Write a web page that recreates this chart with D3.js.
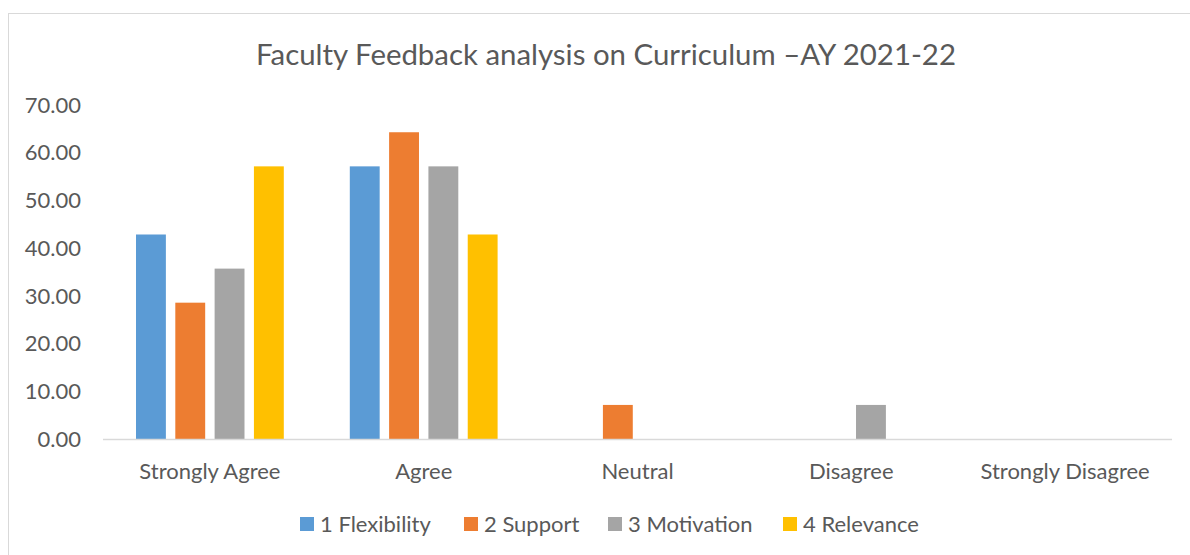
<!DOCTYPE html>
<html>
<head>
<meta charset="utf-8">
<script src="https://cdn.jsdelivr.net/npm/d3@7"></script>
<style>
  body { margin: 0; background: #fff; }
  text { font-family: Lato, "Open Sans", sans-serif; fill: #595959; }
</style>
</head>
<body>
<script>
const categories = ["Strongly Agree", "Agree", "Neutral", "Disagree", "Strongly Disagree"];
const seriesNames = ["1 Flexibility", "2 Support", "3 Motivation", "4 Relevance"];
const flexibility = [42.86, 57.14, 0, 0, 0];
const support = [28.57, 64.29, 7.14, 0, 0];
const motivation = [35.71, 57.14, 0, 7.14, 0];
const relevance = [57.14, 42.86, 0, 0, 0];
const yTicks = [0, 10, 20, 30, 40, 50, 60, 70];
const colors = ["#5B9BD5", "#ED7D31", "#A5A5A5", "#FFC000"];

const seriesValues = [flexibility, support, motivation, relevance];

const W = 1190, H = 555;
const plotLeft = 103, plotRight = 1172, plotTop = 105, plotBottom = 439;

const svg = d3.select('body')
        .append('svg')
        .attr('width', W)
        .attr('height', H);

// chart frame
svg.append('rect')
   .attr('x', 8.5).attr('y', 13.5)
   .attr('width', W + 10).attr('height', H + 10)
   .attr('fill', 'none')
   .attr('stroke', '#d9d9d9');

svg.append('text')
   .attr('x', 606).attr('y', 65)
   .attr('text-anchor', 'middle')
   .attr('font-size', 29.4)
   .text('Faculty Feedback analysis on Curriculum \u2013AY 2021-22');

const x0 = d3.scaleBand()
        .domain(categories)
        .range([plotLeft, plotRight]);

const x1 = d3.scaleBand()
        .domain(seriesNames)
        .range([33, x0.bandwidth() - 33])
        .paddingInner(0.24);

const y = d3.scaleLinear()
        .domain([0, 70])
        .range([plotBottom, plotTop]);

// y tick labels
svg.append('g')
   .selectAll('text')
   .data(yTicks)
   .enter()
   .append('text')
   .attr('x', 81)
   .attr('y', d => y(d))
   .attr('dy', '0.35em')
   .attr('text-anchor', 'end')
   .attr('font-size', 22)
   .text(d => d.toFixed(2));

// bars
const groups = svg.append('g')
   .selectAll('g')
   .data(categories)
   .enter()
   .append('g')
   .attr('transform', d => 'translate(' + x0(d) + ',0)');

groups.selectAll('rect')
   .data((c, i) => seriesNames.map((s, j) => ({s: s, v: seriesValues[j][i], c: colors[j]})))
   .enter()
   .append('rect')
   .attr('x', d => x1(d.s))
   .attr('width', x1.bandwidth())
   .attr('y', d => y(d.v))
   .attr('height', d => y(0) - y(d.v))
   .attr('fill', d => d.c);

// x axis line
svg.append('line')
   .attr('x1', plotLeft).attr('x2', plotRight)
   .attr('y1', plotBottom + 0.5).attr('y2', plotBottom + 0.5)
   .attr('stroke', '#d9d9d9')
   .attr('stroke-width', 1.5);

// category labels
svg.append('g')
   .selectAll('text')
   .data(categories)
   .enter()
   .append('text')
   .attr('x', d => x0(d) + x0.bandwidth() / 2)
   .attr('y', 479)
   .attr('text-anchor', 'middle')
   .attr('font-size', 22)
   .text(d => d);

// legend
const legendX = [300, 464, 608, 783];
const legend = svg.append('g')
   .selectAll('g')
   .data(seriesNames)
   .enter()
   .append('g')
   .attr('transform', (d, i) => 'translate(' + legendX[i] + ',517)');

legend.append('rect')
   .attr('width', 14).attr('height', 14)
   .attr('fill', (d, i) => colors[i]);

legend.append('text')
   .attr('x', 20).attr('y', 7)
   .attr('dy', '0.35em')
   .attr('font-size', 22)
   .text(d => d);
</script>
</body>
</html>
